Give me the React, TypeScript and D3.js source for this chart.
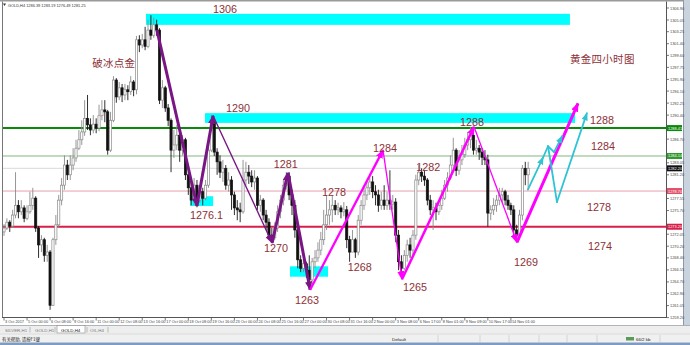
import React from 'react';
import * as d3 from 'd3';

const W = 690, H = 345;

// ---- data (GOLD, H4) ----
const firstOpen = 1272.4;
const closes = [
  1273.0, 1273.9, 1273.3, 1275.0, 1276.5, 1275.5, 1276.1, 1274.5, 1275.5, 1276.5,
  1277.6, 1273.0, 1270.4, 1271.2, 1268.8, 1269.3, 1261.1, 1271.2, 1273.5, 1277.3,
  1279.6, 1282.7, 1281.2, 1282.7, 1283.8, 1285.3, 1286.6, 1287.8, 1289.9, 1288.9,
  1288.1, 1289.0, 1288.4, 1290.3, 1291.2, 1290.9, 1285.0, 1289.6, 1295.8, 1293.2,
  1294.6, 1293.5, 1294.3, 1294.0, 1295.5, 1294.3, 1302.0, 1301.2, 1302.0, 1301.0,
  1303.5, 1302.7, 1304.3, 1303.5, 1292.7, 1294.6, 1291.5, 1289.6, 1285.0, 1285.8,
  1287.3, 1285.0, 1286.6, 1281.2, 1279.2, 1277.3, 1279.6, 1277.3, 1278.6, 1277.6,
  1279.6, 1285.0, 1289.3, 1284.7, 1283.2, 1281.6, 1282.2, 1279.6, 1280.4, 1278.1,
  1276.1, 1275.8, 1275.5, 1280.4, 1281.6, 1281.0, 1280.1, 1280.7, 1276.5, 1277.3,
  1275.0, 1273.9, 1271.9, 1271.5, 1273.0, 1275.5, 1277.3, 1279.6, 1281.0, 1278.1,
  1276.5, 1272.7, 1268.1, 1266.8, 1267.5, 1266.5, 1265.0, 1267.8, 1268.4, 1269.6,
  1271.2, 1273.5, 1275.0, 1275.8, 1276.5, 1275.8, 1276.1, 1275.5, 1275.8, 1271.2,
  1269.3, 1271.2, 1269.3, 1274.2, 1276.5, 1278.1, 1279.2, 1280.1, 1278.6, 1278.1,
  1276.5, 1277.3, 1276.5, 1277.3, 1276.7, 1277.0, 1271.9, 1267.8, 1266.8, 1268.8,
  1270.4, 1269.6, 1271.9, 1280.4, 1281.6, 1281.0, 1280.4, 1277.3, 1275.8, 1276.1,
  1275.5, 1276.5, 1277.6, 1279.6, 1280.7, 1282.7, 1285.0, 1281.9, 1283.5, 1284.3,
  1285.8, 1286.6, 1287.3, 1285.0, 1285.3, 1284.7, 1283.9, 1283.5, 1275.3, 1275.8,
  1276.5, 1277.3, 1278.1, 1278.6, 1277.3, 1276.5, 1275.8, 1272.7, 1271.9, 1275.0,
  1282.2, 1281.2, 1282.2,
];
const highs = [
  1273.6, 1274.5, 1274.2, 1275.8, 1281.6, 1277.3, 1277.3, 1276.5, 1276.5, 1278.6,
  1279.2, 1277.9, 1273.3, 1271.9, 1271.5, 1270.4, 1269.6, 1271.5, 1275.0, 1278.1,
  1280.7, 1284.2, 1283.5, 1284.2, 1285.3, 1286.6, 1288.1, 1289.6, 1292.7, 1293.5,
  1289.9, 1290.4, 1289.9, 1292.0, 1292.7, 1292.7, 1291.2, 1290.9, 1296.4, 1296.1,
  1295.5, 1295.2, 1295.2, 1295.0, 1296.4, 1295.8, 1302.6, 1302.7, 1302.9, 1304.0,
  1305.1, 1305.8, 1305.4, 1305.1, 1303.8, 1295.8, 1294.9, 1292.1, 1289.9, 1288.1,
  1288.9, 1288.1, 1287.3, 1286.9, 1281.6, 1280.1, 1280.7, 1280.4, 1279.6, 1279.2,
  1280.4, 1285.8, 1290.4, 1289.9, 1285.3, 1284.2, 1283.5, 1282.7, 1281.6, 1281.0,
  1278.6, 1277.3, 1276.9, 1283.5, 1283.2, 1282.7, 1281.9, 1281.9, 1281.0, 1278.1,
  1277.6, 1275.8, 1274.5, 1273.0, 1273.9, 1276.5, 1278.1, 1280.4, 1281.6, 1281.6,
  1278.9, 1277.3, 1273.5, 1268.8, 1268.4, 1267.8, 1268.8, 1268.4, 1269.6, 1270.8,
  1272.4, 1275.8, 1278.1, 1277.3, 1278.1, 1277.3, 1276.9, 1276.5, 1277.0, 1276.4,
  1271.8, 1272.7, 1271.5, 1275.0, 1277.3, 1279.2, 1280.4, 1281.2, 1281.0, 1279.6,
  1278.9, 1278.6, 1279.6, 1278.6, 1281.9, 1278.1, 1277.6, 1272.7, 1268.8, 1269.6,
  1271.2, 1271.5, 1272.7, 1281.2, 1282.7, 1282.2, 1281.9, 1280.7, 1278.1, 1277.3,
  1276.9, 1277.3, 1278.9, 1280.4, 1281.6, 1284.2, 1286.9, 1285.3, 1285.0, 1285.8,
  1286.9, 1287.8, 1288.6, 1288.1, 1286.6, 1285.8, 1285.3, 1285.0, 1284.3, 1276.5,
  1277.6, 1278.1, 1279.2, 1279.2, 1278.9, 1278.1, 1276.9, 1276.5, 1273.5, 1275.8,
  1282.7, 1283.2, 1283.2,
];
const lows = [
  1271.8, 1272.7, 1272.4, 1273.0, 1274.5, 1274.5, 1275.0, 1273.9, 1274.2, 1275.2,
  1275.8, 1272.4, 1268.4, 1269.3, 1267.8, 1267.8, 1260.4, 1261.0, 1270.4, 1273.0,
  1276.5, 1278.9, 1280.4, 1280.4, 1281.9, 1283.2, 1285.0, 1285.8, 1287.2, 1288.1,
  1287.3, 1287.6, 1287.6, 1287.9, 1289.6, 1289.3, 1284.3, 1284.7, 1289.3, 1292.3,
  1292.7, 1292.4, 1292.7, 1292.7, 1293.5, 1293.3, 1293.6, 1300.1, 1300.7, 1300.4,
  1300.7, 1302.0, 1302.3, 1302.6, 1292.1, 1291.5, 1290.9, 1288.7, 1281.6, 1283.8,
  1285.0, 1283.2, 1284.2, 1280.4, 1278.1, 1276.5, 1276.5, 1276.2, 1276.9, 1276.5,
  1277.3, 1279.2, 1284.7, 1284.1, 1281.2, 1280.7, 1280.1, 1278.9, 1278.6, 1275.8,
  1275.0, 1274.2, 1273.9, 1275.2, 1279.6, 1279.8, 1279.3, 1278.9, 1275.8, 1275.5,
  1274.2, 1272.7, 1271.2, 1270.7, 1271.2, 1272.4, 1274.5, 1276.5, 1278.9, 1277.3,
  1275.0, 1271.5, 1266.8, 1266.2, 1266.2, 1265.3, 1263.5, 1264.2, 1266.8, 1267.8,
  1268.8, 1270.4, 1272.7, 1273.5, 1273.9, 1275.0, 1275.0, 1274.5, 1274.8, 1269.9,
  1267.8, 1269.6, 1268.4, 1268.8, 1273.5, 1275.8, 1277.3, 1278.1, 1277.6, 1276.5,
  1275.5, 1275.8, 1275.8, 1275.8, 1275.8, 1275.8, 1270.8, 1266.5, 1265.3, 1266.5,
  1267.8, 1268.4, 1268.8, 1271.2, 1279.6, 1280.1, 1279.5, 1276.5, 1275.0, 1272.7,
  1274.2, 1275.0, 1275.8, 1277.3, 1278.6, 1280.4, 1282.2, 1281.0, 1281.2, 1282.7,
  1283.8, 1285.0, 1285.3, 1284.3, 1284.3, 1283.5, 1282.7, 1282.7, 1273.2, 1274.2,
  1275.0, 1275.5, 1276.5, 1277.0, 1276.5, 1275.8, 1275.0, 1271.9, 1270.8, 1271.2,
  1274.2, 1279.6, 1278.9,
];

const priceTicks = [
  1306.90, 1305.05, 1303.25, 1301.40, 1299.60, 1297.75, 1295.90, 1294.10, 1292.25,
  1290.40, 1288.55, 1286.70, 1284.85, 1283.05, 1281.20, 1279.40, 1277.55, 1275.70,
  1273.90, 1272.05, 1270.20, 1268.40, 1266.55, 1264.70, 1262.90, 1261.05, 1259.20,
];
const timeLabels = [
  '3 Oct 2017', '5 Oct 00:00', '6 Oct 08:00', '9 Oct 16:00', '11 Oct 00:00', '12 Oct 08:00',
  '13 Oct 16:00', '17 Oct 00:00', '18 Oct 08:00', '19 Oct 16:00', '23 Oct 00:00', '24 Oct 08:00',
  '25 Oct 16:00', '27 Oct 00:00', '30 Oct 08:00', '31 Oct 16:00', '2 Nov 00:00', '3 Nov 08:00',
  '6 Nov 17:00', '8 Nov 01:00', '9 Nov 09:00', '10 Nov 17:00', '14 Nov 01:00',
];
const timeLabelStep = 8;

// horizontal levels
const levels = [
  { p: 1288.4, label: '1288.41', color: '#0a8a0a', w: 2, box: '#0a8a0a' },
  { p: 1284.1, label: '1284.14', color: '#7fb77f', w: 1, box: '#2e9a2e' },
  { p: 1282.2, label: '1282.20', color: '#dadada', w: 1, box: '#111111' },
  { p: 1278.7, label: '1278.70', color: '#e6a0ac', w: 1, box: '#e0506a' },
  { p: 1273.2, label: '1273.20', color: '#d81e48', w: 2, box: '#d81e48' },
];

// cyan zones [startIdx, endIdx, lowPrice, highPrice]
const zones = [
  [49.3, 196.5, 1304.3, 1306.0],
  [69.8, 198.3, 1289.2, 1290.7],
  [64.6, 72.6, 1276.4, 1277.9],
  [99.3, 112.5, 1265.5, 1267.1],
];

// swing paths
const purpleIdx = [53.1, 67.0, 72.6, 93.1, 98.6, 106.3];
const purplePrice = [1303.5, 1276.4, 1290.3, 1270.7, 1281.5, 1263.5];
const purpleWidth = [3, 3, 1.4, 3, 3];
const magentaIdx = [106.3, 131.6, 138.2, 163.2, 178.1, 199.3];
const magentaPrice = [1263.5, 1285.0, 1265.1, 1288.6, 1270.8, 1292.2];
const magentaWidth = [2.3, 1.3, 2.5, 1.3, 3];
const cyanIdx = [181.9, 187.2, 188.9, 191.0, 193.8, 192.0, 202.4];
const cyanPrice = [1278.9, 1283.9, 1285.6, 1284.7, 1287.2, 1277.0, 1290.7];
const cyanSegs = [[0, 1, 1], [1, 2, 0], [2, 3, 0], [3, 4, 1], [2, 5, 0], [5, 6, 1]];

const numLabels = [
  { t: '1306', i: 72.6, p: 1306.1 },
  { t: '1290', i: 77.1, p: 1290.9 },
  { t: '1276.1', i: 64.6, p: 1274.4 },
  { t: '1281', i: 93.7, p: 1282.2 },
  { t: '1270', i: 90.3, p: 1269.3 },
  { t: '1278', i: 110.4, p: 1277.9 },
  { t: '1284', i: 128.1, p: 1284.7 },
  { t: '1282', i: 143.1, p: 1281.8 },
  { t: '1268', i: 119.4, p: 1266.4 },
  { t: '1263', i: 101.0, p: 1261.3 },
  { t: '1265', i: 138.5, p: 1263.3 },
  { t: '1288', i: 158.3, p: 1288.7 },
  { t: '1269', i: 177.1, p: 1267.1 },
  { t: '1288', i: 203.5, p: 1289.0 },
  { t: '1284', i: 203.8, p: 1285.0 },
  { t: '1278', i: 202.4, p: 1275.6 },
  { t: '1274', i: 202.8, p: 1269.6 },
];
const cnLabels = [
  { t: '破冰点金', i: 30.6, p: 1297.8 },
  { t: '黄金四小时图', i: 196.5, p: 1298.4 },
];

const tabs = ['SILVER,H1', 'GOLD,H1', 'GOLD,H4', 'OIL,H4'];
const header = 'GOLD,H4  1286.39 1283.19 1276.49 1281.25';

// ---- layout ----
const plotL = 2, plotR = 666, plotT = 2, plotB = 317.5;
const x = d3.scaleLinear().domain([0, 100]).range([4, 4 + 288]);
const y = d3.scaleLinear().domain([1259.2, 1306.9]).range([317.6, 8]);

const TEXT = '#8e3137';
const SMALL = 3.9;

function Arrow({ id, color, size }) {
  return (
    <marker id={id} viewBox="0 0 10 8" refX="9" refY="4" markerWidth={size} markerHeight={size * 0.8}
      orient="auto" markerUnits="userSpaceOnUse">
      <path d="M0,0 L10,4 L0,8 Z" fill={color} />
    </marker>
  );
}

export default function App() {
  const candles = closes.map((c, i) => {
    const o = i === 0 ? firstOpen : closes[i - 1];
    const h = Math.max(highs[i], o, c);
    const l = Math.min(lows[i], o, c);
    return { i, o, c, h, l };
  });
  const visibleTicks = priceTicks.filter(p => levels.every(lv => Math.abs(y(lv.p) - y(p)) > 5.5));

  return (
    <svg width={W} height={H} style={{ position: 'absolute', left: 0, top: 0, background: '#fff' }}
      fontFamily="'Liberation Sans', Arial, sans-serif">
      <defs>
        <Arrow id="arP" color="#7a1585" size={9} />
        <Arrow id="arM" color="#ff00ff" size={9} />
        <Arrow id="arC" color="#2ec4d4" size={8} />
        <clipPath id="plot"><rect x={plotL} y={plotT} width={plotR - plotL} height={plotB - plotT} /></clipPath>
      </defs>
      <rect x={0} y={0} width={W} height={H} fill="#fff" />
      <rect x={0} y={0} width={W} height={1.5} fill="#9a9a9a" />
      <rect x={683} y={0} width={7} height={326} fill="#c9d3de" />
      <line x1={683.5} y1={0} x2={683.5} y2={326} stroke="#8d99a6" />

      <g clipPath="url(#plot)">
        {zones.map((z, k) => (
          <rect key={k} x={x(z[0])} y={y(z[3])} width={x(z[1]) - x(z[0])} height={y(z[2]) - y(z[3])} fill="#00ffff" />
        ))}
        {levels.map((lv, k) => (
          <line key={k} x1={plotL} x2={plotR} y1={y(lv.p)} y2={y(lv.p)} stroke={lv.color} strokeWidth={lv.w} />
        ))}
        {candles.map(d => {
          const cx = x(d.i);
          const bull = d.c >= d.o;
          const top = y(Math.max(d.o, d.c));
          const bot = y(Math.min(d.o, d.c));
          return (
            <g key={d.i}>
              <line x1={cx} x2={cx} y1={y(d.h)} y2={y(d.l)} stroke={bull ? '#8a8a8a' : '#1a1a1a'} strokeWidth={0.9} />
              <rect x={cx - 1.1} y={top} width={2.2} height={Math.max(0.8, bot - top)}
                fill={bull ? '#ffffff' : '#111111'} stroke={bull ? '#8a8a8a' : '#111111'} strokeWidth={0.7} />
            </g>
          );
        })}
        {purpleWidth.map((w, k) => (
          <line key={'p' + k} x1={x(purpleIdx[k])} y1={y(purplePrice[k])} x2={x(purpleIdx[k + 1])} y2={y(purplePrice[k + 1])}
            stroke="#7a1585" strokeWidth={w} markerEnd="url(#arP)" />
        ))}
        {magentaWidth.map((w, k) => (
          <line key={'m' + k} x1={x(magentaIdx[k])} y1={y(magentaPrice[k])} x2={x(magentaIdx[k + 1])} y2={y(magentaPrice[k + 1])}
            stroke="#ff00ff" strokeWidth={w} markerEnd="url(#arM)" />
        ))}
        {cyanSegs.map(([a, b, arr], k) => (
          <line key={'c' + k} x1={x(cyanIdx[a])} y1={y(cyanPrice[a])} x2={x(cyanIdx[b])} y2={y(cyanPrice[b])}
            stroke="#2ec4d4" strokeWidth={1.8} strokeLinecap="round" markerEnd={arr ? 'url(#arC)' : undefined} />
        ))}
      </g>

      {numLabels.map((l, k) => (
        <text key={'n' + k} x={x(l.i)} y={y(l.p)} fontSize={10.8} fill={TEXT}>{l.t}</text>
      ))}
      {cnLabels.map((l, k) => (
        <text key={'z' + k} x={x(l.i)} y={y(l.p)} fontSize={10.5} fill={TEXT} letterSpacing={0.3}
          fontFamily="'Noto Sans CJK SC', sans-serif">{l.t}</text>
      ))}

      <path d="M3,3.5 L6,3.5 L4.5,6 Z" fill="#333" />
      <text x={8} y={7} fontSize={SMALL} fill="#333">{header}</text>

      <line x1={2.5} y1={1.5} x2={2.5} y2={plotB} stroke="#777" strokeWidth={1} />
      <line x1={plotR + 0.5} y1={1.5} x2={plotR + 0.5} y2={plotB} stroke="#555" strokeWidth={1} />
      <line x1={2} y1={plotB} x2={plotR + 1} y2={plotB} stroke="#555" strokeWidth={1} />

      {visibleTicks.map((p, k) => (
        <g key={'t' + k}>
          <line x1={plotR + 0.5} x2={plotR + 3} y1={y(p)} y2={y(p)} stroke="#555" strokeWidth={0.8} />
          <text x={plotR + 4} y={y(p) + 1.5} fontSize={SMALL} fill="#444">{p.toFixed(2)}</text>
        </g>
      ))}
      {levels.map((lv, k) => (
        <g key={'lb' + k}>
          <rect x={plotR + 1} y={y(lv.p) - 3} width={15} height={6} fill={lv.box} />
          <text x={plotR + 2} y={y(lv.p) + 1.5} fontSize={SMALL} fill="#fff">{lv.label}</text>
        </g>
      ))}

      {timeLabels.map((t, k) => (
        <g key={'tl' + k}>
          <line x1={x(k * timeLabelStep)} x2={x(k * timeLabelStep)} y1={plotB} y2={plotB + 3} stroke="#555" strokeWidth={0.8} />
          <text x={x(k * timeLabelStep) + 1} y={323} fontSize={SMALL} fill="#444">{t}</text>
        </g>
      ))}

      <rect x={0} y={325.5} width={W} height={8.5} fill="#eeeeee" />
      <line x1={0} y1={325.5} x2={W} y2={325.5} stroke="#9aa3ad" strokeWidth={0.8} />
      <rect x={57} y={325.5} width={28} height={7.5} fill="#ffffff" stroke="#888" strokeWidth={0.6} />
      {tabs.map((t, k) => (
        <text key={'tab' + k} x={[5, 35, 61, 90][k]} y={331.5} fontSize={4.4} fill={k === 2 ? '#111' : '#777'}>{t}</text>
      ))}
      {[30, 55, 87, 108].map((sx, k) => (
        <line key={'ts' + k} x1={sx} x2={sx} y1={327} y2={332.5} stroke="#999" strokeWidth={0.6} />
      ))}

      <rect x={0} y={334} width={W} height={8.5} fill="#f0f0f0" />
      <line x1={0} y1={334} x2={W} y2={334} stroke="#d0d0d0" strokeWidth={0.6} />
      <text x={2} y={340.5} fontSize={4.4} fill="#222" fontFamily="'Noto Sans CJK SC', sans-serif">有关帮助, 请按F1键</text>
      <text x={392} y={340.5} fontSize={4.4} fill="#222">Default</text>
      {[438, 480, 509, 539, 567, 597, 660].map((sx, k) => (
        <line key={'ss' + k} x1={sx} x2={sx} y1={335} y2={342} stroke="#c4c4c4" strokeWidth={0.6} />
      ))}
      <rect x={626} y={337} width={8} height={3.5} fill="#5a9a5a" />
      <text x={636} y={340.5} fontSize={4.4} fill="#222">66/2 kb</text>
      <rect x={0} y={342.5} width={W} height={2.5} fill="#7d9cc0" />
    </svg>
  );
}
